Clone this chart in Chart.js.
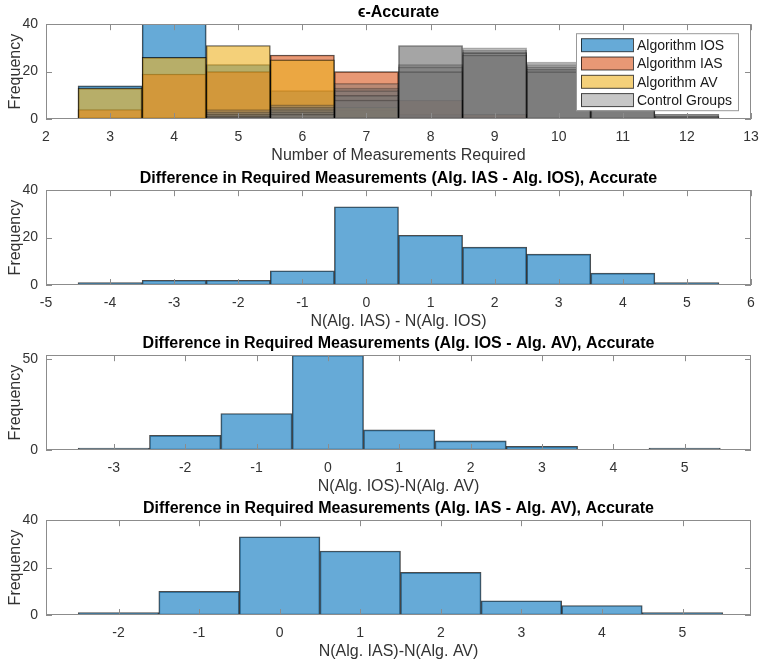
<!DOCTYPE html>
<html>
<head>
<meta charset="utf-8">
<title>Required measurements histograms</title>
<script src="https://cdn.jsdelivr.net/npm/chart.js@4.4.1/dist/chart.umd.min.js"></script>
<style>
    html, body { margin: 0; padding: 0; background: #fff; }
    body { width: 760px; height: 660px; position: relative; overflow: hidden; }
    .panel { position: absolute; left: 0; width: 760px; height: 166px; }
</style>
</head>
<body>
<div class="panel" style="top:-1px"><canvas id="epsChart" width="760" height="166"></canvas></div>
<div class="panel" style="top:165px"><canvas id="iasIosChart" width="760" height="166"></canvas></div>
<div class="panel" style="top:330px"><canvas id="iosAvChart" width="760" height="166"></canvas></div>
<div class="panel" style="top:495px"><canvas id="iasAvChart" width="760" height="166"></canvas></div>

<script>
// ---- data ----

// epsilon-accurate: bins centred on 3..12
const measBins = [3, 4, 5, 6, 7, 8, 9, 10, 11, 12];
const iosCounts = [14, 45, 23, 12, 4, 2, 0, 0, 0, 0];
const iasCounts = [4, 19, 20, 27, 20, 8, 2, 0, 0, 0];
const avCounts = [13, 26, 31, 25, 5, 0, 0, 0, 0, 0];
const controlCounts1 = [0, 0, 4, 6, 15, 31, 30, 24, 16, 2];
const controlCounts2 = [0, 0, 3, 5, 13, 31, 29, 23, 14, 2];
const controlCounts3 = [0, 0, 2, 4, 12, 23, 28, 22, 13, 1];
const controlCounts4 = [0, 0, 1, 3, 10, 22, 28, 21, 12, 1];
const controlCounts5 = [0, 0, 1, 2, 8, 20, 27, 20, 10, 1];
const measXTicks = [2, 3, 4, 5, 6, 7, 8, 9, 10, 11, 12, 13];
const measYTicks = [0, 20, 40];

// IAS - IOS
const iasIosBins = [-4, -3, -2, -1, 0, 1, 2, 3, 4, 5];
const iasIosCounts = [1, 2, 2, 6, 33, 21, 16, 13, 5, 1];
const iasIosXTicks = [-5, -4, -3, -2, -1, 0, 1, 2, 3, 4, 5, 6];
const iasIosYTicks = [0, 20, 40];

// IOS - AV
const iosAvBins = [-3, -2, -1, 0, 1, 2, 3, 4, 5];
const iosAvCounts = [1, 8, 20, 52, 11, 5, 2, 0, 1];
const iosAvXTicks = [-3, -2, -1, 0, 1, 2, 3, 4, 5];
const iosAvYTicks = [0, 50];

// IAS - AV
const iasAvBins = [-2, -1, 0, 1, 2, 3, 4, 5];
const iasAvCounts = [1, 10, 33, 27, 18, 6, 4, 1];
const iasAvXTicks = [-2, -1, 0, 1, 2, 3, 4, 5];
const iasAvYTicks = [0, 20, 40];

// ---- styles ----
const FONT = "'Liberation Sans', Arial, 'DejaVu Sans', sans-serif";
const blueFill = 'rgba(0, 114, 189, 0.6)';
const orangeFill = 'rgba(217, 83, 25, 0.6)';
const yellowFill = 'rgba(237, 177, 32, 0.6)';
const grayFill = 'rgba(115, 115, 115, 0.4)';
const edgeColor = 'rgba(0, 0, 0, 0.7)';
const controlEdge = 'rgba(0, 0, 0, 0.3)';
const axisColor = '#8c8c8c';
const textColor = '#333';

Chart.defaults.font.family = FONT;
Chart.defaults.color = textColor;

function toPoints(bins, counts) {
    return bins.map((b, i) => ({ x: b, y: counts[i] }));
}

function histDataset(label, bins, counts, color, order, edge) {
    return {
        label: label,
        data: toPoints(bins, counts),
        backgroundColor: color,
        borderColor: edge || edgeColor,
        borderWidth: 1,
        borderSkipped: false,
        barPercentage: 1,
        categoryPercentage: 1,
        grouped: false,
        order: order
    };
}

// box + inward ticks on all four sides, like MATLAB axes
const matlabAxes = {
    id: 'matlabAxes',
    afterDatasetsDraw(chart) {
        const { ctx, chartArea: a, scales: { x, y } } = chart;
        const len = 6;
        ctx.save();
        ctx.strokeStyle = axisColor;
        ctx.lineWidth = 1;
        ctx.beginPath();
        x.ticks.forEach(t => {
            const px = Math.round(x.getPixelForValue(t.value)) + 0.5;
            ctx.moveTo(px, a.bottom); ctx.lineTo(px, a.bottom - len);
            ctx.moveTo(px, a.top); ctx.lineTo(px, a.top + len);
        });
        y.ticks.forEach(t => {
            const py = Math.round(y.getPixelForValue(t.value)) + 0.5;
            ctx.moveTo(a.left, py); ctx.lineTo(a.left + len, py);
            ctx.moveTo(a.right, py); ctx.lineTo(a.right - len, py);
        });
        ctx.stroke();
        ctx.strokeRect(Math.round(a.left) + 0.5, Math.round(a.top) + 0.5,
            Math.round(a.width) - 1, Math.round(a.height) - 1);
        ctx.restore();
    }
};

// boxed legend inside the top-right of the first axes
const legendItems = [
    { label: 'Algorithm IOS', color: blueFill },
    { label: 'Algorithm IAS', color: orangeFill },
    { label: 'Algorithm AV', color: yellowFill },
    { label: 'Control Groups', color: grayFill }
];

const boxLegend = {
    id: 'boxLegend',
    afterDraw(chart) {
        const { ctx, chartArea: a } = chart;
        const left = a.right - 175, top = a.top + 9;
        const w = 162, h = 77, rowH = 18.3;
        ctx.save();
        ctx.fillStyle = '#fff';
        ctx.fillRect(left, top, w, h);
        ctx.strokeStyle = '#999';
        ctx.lineWidth = 1;
        ctx.strokeRect(left + 0.5, top + 0.5, w, h);
        ctx.font = '14px ' + FONT;
        ctx.textBaseline = 'middle';
        legendItems.forEach((item, i) => {
            const cy = top + 12 + i * rowH;
            ctx.fillStyle = item.color;
            ctx.fillRect(left + 5, cy - 6.5, 52, 13);
            ctx.strokeStyle = edgeColor;
            ctx.strokeRect(left + 5.5, cy - 6.5, 52, 13);
            ctx.fillStyle = '#1a1a1a';
            ctx.fillText(item.label, left + 61, cy + 1);
        });
        ctx.restore();
    }
};

function makeHistogram(canvasId, opts) {
    const ctx = document.getElementById(canvasId).getContext('2d');
    const plugins = [matlabAxes];
    if (opts.legend) plugins.push(boxLegend);

    return new Chart(ctx, {
        type: 'bar',
        data: { datasets: opts.datasets },
        plugins: plugins,
        options: {
            responsive: false,
            animation: false,
            layout: { padding: { left: 0, right: 9, top: 0, bottom: 0 } },
            plugins: {
                legend: { display: false },
                tooltip: { enabled: false },
                title: {
                    display: true,
                    text: opts.title,
                    fullSize: false,
                    color: '#000',
                    font: { size: 16, weight: 'bold' },
                    padding: { top: 4, bottom: 2 }
                }
            },
            scales: {
                x: {
                    type: 'linear',
                    offset: false,
                    min: opts.xMin,
                    max: opts.xMax,
                    grid: { display: false, drawTicks: false },
                    border: { display: false },
                    afterBuildTicks: s => { s.ticks = opts.xTicks.map(v => ({ value: v })); },
                    // fixed box: no extra room for overhanging end labels
                    afterFit: s => { s.height = 46; s.paddingLeft = 0; s.paddingRight = 0; },
                    ticks: {
                        autoSkip: false,
                        maxRotation: 0,
                        padding: 10,
                        color: textColor,
                        font: { size: 14 }
                    },
                    title: {
                        display: true,
                        text: opts.xLabel,
                        color: textColor,
                        font: { size: 16 },
                        padding: { top: 0, bottom: 0 }
                    }
                },
                y: {
                    min: 0,
                    max: opts.yMax,
                    grid: { display: false, drawTicks: false },
                    border: { display: false },
                    afterBuildTicks: s => { s.ticks = opts.yTicks.map(v => ({ value: v })); },
                    afterFit: s => { s.width = 46; s.paddingTop = 0; s.paddingBottom = 0; },
                    ticks: {
                        padding: 8,
                        color: textColor,
                        font: { size: 14 }
                    },
                    title: {
                        display: true,
                        text: 'Frequency',
                        color: textColor,
                        font: { size: 16 },
                        padding: { top: 6, bottom: 0 }
                    }
                }
            }
        }
    });
}

function initializeCharts() {
    // epsilon-accurate overlay (controls drawn last, on top)
    makeHistogram('epsChart', {
        title: '\u03f5-Accurate',
        xLabel: 'Number of Measurements Required',
        xMin: 2, xMax: 13, yMax: 40,
        xTicks: measXTicks, yTicks: measYTicks,
        legend: true,
        datasets: [
            histDataset('Algorithm IOS', measBins, iosCounts, blueFill, 8),
            histDataset('Algorithm IAS', measBins, iasCounts, orangeFill, 7),
            histDataset('Algorithm AV', measBins, avCounts, yellowFill, 6),
            histDataset('Control 1', measBins, controlCounts1, grayFill, 5, controlEdge),
            histDataset('Control 2', measBins, controlCounts2, grayFill, 4, controlEdge),
            histDataset('Control 3', measBins, controlCounts3, grayFill, 3, controlEdge),
            histDataset('Control 4', measBins, controlCounts4, grayFill, 2, controlEdge),
            histDataset('Control 5', measBins, controlCounts5, grayFill, 1, controlEdge)
        ]
    });

    makeHistogram('iasIosChart', {
        title: 'Difference in Required Measurements (Alg. IAS - Alg. IOS), Accurate',
        xLabel: 'N(Alg. IAS) - N(Alg. IOS)',
        xMin: -5, xMax: 6, yMax: 40,
        xTicks: iasIosXTicks, yTicks: iasIosYTicks,
        datasets: [histDataset('IAS - IOS', iasIosBins, iasIosCounts, blueFill, 0)]
    });

    makeHistogram('iosAvChart', {
        title: 'Difference in Required Measurements (Alg. IOS - Alg. AV), Accurate',
        xLabel: 'N(Alg. IOS)-N(Alg. AV)',
        xMin: -3.95, xMax: 5.93, yMax: 52,
        xTicks: iosAvXTicks, yTicks: iosAvYTicks,
        datasets: [histDataset('IOS - AV', iosAvBins, iosAvCounts, blueFill, 0)]
    });

    makeHistogram('iasAvChart', {
        title: 'Difference in Required Measurements (Alg. IAS - Alg. AV), Accurate',
        xLabel: 'N(Alg. IAS)-N(Alg. AV)',
        xMin: -2.9, xMax: 5.85, yMax: 40,
        xTicks: iasAvXTicks, yTicks: iasAvYTicks,
        datasets: [histDataset('IAS - AV', iasAvBins, iasAvCounts, blueFill, 0)]
    });
}

initializeCharts();
</script>
</body>
</html>
